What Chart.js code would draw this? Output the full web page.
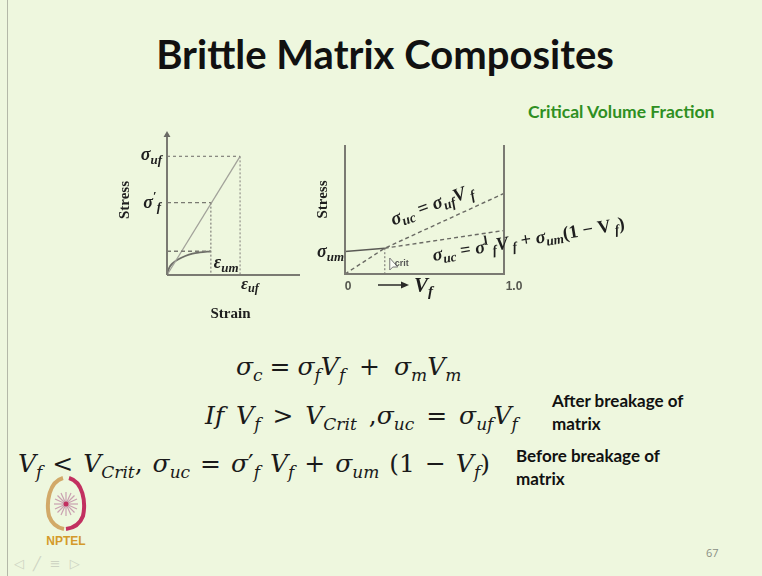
<!DOCTYPE html>
<html>
<head>
<meta charset="utf-8">
<script src="https://cdn.jsdelivr.net/npm/chart.js@4/dist/chart.umd.min.js"></script>
<style>
  html, body { margin: 0; padding: 0; }
  body { width: 762px; height: 576px; overflow: hidden; background: #eef7de; }
  #slide { position: relative; width: 762px; height: 576px; background: #eef7de; }
  .abs { position: absolute; white-space: nowrap; }
  #title { left: 4px; width: 762px; top: 30px; text-align: center; font-family: Lato, "Open Sans", sans-serif; font-weight: 700; font-size: 40px; color: #111; }
  #crit { left: 528px; top: 101px; font-family: Lato, sans-serif; font-weight: 700; font-size: 17.5px; color: #2f8f22; }
  .eq { font-family: "DejaVu Serif", "Liberation Serif", serif; font-size: 25px; color: #1a1a1a; line-height: 30px; }
  .eq i { font-style: italic; }
  .eq sub { font-size: 0.68em; vertical-align: -0.34em; line-height: 0; font-style: italic; }
  .note { font-family: Lato, sans-serif; font-weight: 700; font-size: 17px; color: #111; line-height: 23px; }
  #page { left: 706px; top: 545px; font-family: "Open Sans", sans-serif; font-size: 11px; color: #8a8f84; }
  #nav { left: 14px; top: 556px; font-family: "DejaVu Sans", sans-serif; font-size: 13px; color: #cdd3c2; letter-spacing: 9px; }
  #edge { left: 7px; top: 0; width: 1px; height: 576px; background: #b4b8a8; }
  canvas { position: absolute; }
</style>
</head>
<body>
<div id="slide">
  <div id="edge" class="abs"></div>
  <div id="title" class="abs">Brittle Matrix Composites</div>
  <div id="crit" class="abs">Critical Volume Fraction</div>

  <canvas id="strainChart" width="210" height="200" style="left:100px; top:125px;"></canvas>
  <canvas id="vfChart" width="340" height="170" style="left:305px; top:135px;"></canvas>

  <div class="abs eq" style="left:236px; top:352px; word-spacing:-1px;"><i>σ</i><sub>c</sub> = <i>σ</i><sub>f</sub><i>V</i><sub>f</sub> &nbsp;+&nbsp; <i>σ</i><sub>m</sub><i>V</i><sub>m</sub></div>
  <div class="abs eq" style="left:205px; top:401px; word-spacing:4px;"><i>If V</i><sub>f</sub> &gt; <i>V</i><sub>Crit</sub> ,<i>σ</i><sub>uc</sub> = <i>σ</i><sub>uf</sub><i>V</i><sub>f</sub></div>
  <div class="abs eq" style="left:18px; top:449px; word-spacing:2px;"><i>V</i><sub>f</sub> &lt; <i>V</i><sub>Crit</sub>, <i>σ</i><sub>uc</sub> = <i>σ</i>′<sub>f</sub> <i>V</i><sub>f</sub> + <i>σ</i><sub>um</sub> (1 − <i>V</i><sub>f</sub>)</div>

  <div class="abs note" style="left:552px; top:389px;">After breakage of<br>matrix</div>
  <div class="abs note" style="left:516px; top:444px;">Before breakage of<br>matrix</div>

  <svg class="abs" style="left:36px; top:472px;" width="60" height="80" viewBox="0 0 60 80">
    <path d="M27 6 C13 10 10 30 13 44 C16 52 22 56 28 57" fill="none" stroke="#d2a968" stroke-width="4"/>
    <path d="M33 6 C47 10 50 30 47 44 C44 52 38 56 30 57" fill="none" stroke="#c23060" stroke-width="4"/>
    <g stroke="#c9a0b0" stroke-width="1.2">
      <line x1="30" y1="20" x2="30" y2="44"/><line x1="18" y1="32" x2="42" y2="32"/>
      <line x1="21.5" y1="23.5" x2="38.5" y2="40.5"/><line x1="38.5" y1="23.5" x2="21.5" y2="40.5"/>
      <line x1="25" y1="21" x2="35" y2="43"/><line x1="35" y1="21" x2="25" y2="43"/>
      <line x1="19" y1="27" x2="41" y2="37"/><line x1="41" y1="27" x2="19" y2="37"/>
    </g>
    <circle cx="30" cy="32" r="2.5" fill="#c23060"/>
    <text x="30" y="73" text-anchor="middle" font-family="Liberation Sans, sans-serif" font-weight="700" font-size="12" fill="#d49a2a">NPTEL</text>
  </svg>

  <div id="nav" class="abs">◁╱≡▷</div>
  <div id="page" class="abs">67</div>
</div>

<script>
// ---- Stress–strain sketch (fibre vs. matrix) ----
const strainMax = 1.82;
const stressMax = 1.18;
const sigmaUf = 1.0;      // ultimate fibre strength
const sigmaF1 = 0.61;     // fibre stress at matrix failure strain
const sigmaUm = 0.2;      // ultimate matrix strength
const epsUm = 0.6;        // matrix failure strain
const epsUf = 1.0;        // fibre failure strain
const fibreStrain = [0, 1.0];
const fibreStress = [0, 1.0];
const matrixStrain = [0, 0.03, 0.08, 0.15, 0.25, 0.35, 0.45, 0.6];
const matrixStress = [0, 0.06, 0.1, 0.13, 0.16, 0.18, 0.19, 0.2];

// ---- Composite strength vs. fibre volume fraction ----
const vfMax = 1.0;
const sigmaMax = 1.6;
const vCrit = 0.25;
const fibreCtrlVf = [0, 0.25, 1.0];       // σuc = σuf·Vf branch
const fibreCtrlStress = [0, 0.32, 1.0];
const matrixCtrlVf = [0, 0.25];           // matrix-controlled, solid part
const matrixCtrlStress = [0.28, 0.32];
const matrixExtVf = [0.25, 1.0];          // matrix-controlled, extended
const matrixExtStress = [0.32, 0.54];

const pts = (xs, ys) => xs.map((x, i) => ({ x, y: ys[i] }));

// Draw a run of text pieces: flags i=italic, b=bold, s=subscript, p=superscript
function rich(ctx, parts, x, y, o) {
  const size = o.size || 16, fam = o.family || '"Liberation Serif", serif';
  const segs = parts.map(([t, f]) => {
    const small = f.includes('s') || f.includes('p');
    const sz = small ? size * 0.72 : size;
    const font = (f.includes('i') ? 'italic ' : '') + (f.includes('b') ? 'bold ' : '') + sz + 'px ' + fam;
    ctx.font = font;
    const w = ctx.measureText(t).width;
    const dy = f.includes('s') ? size * 0.2 : f.includes('p') ? -size * 0.4 : 0;
    return { t, font, w, dy };
  });
  const total = segs.reduce((a, s) => a + s.w, 0);
  let cx = o.align === 'right' ? -total : o.align === 'center' ? -total / 2 : 0;
  ctx.save();
  ctx.translate(x, y);
  if (o.rotate) ctx.rotate(o.rotate * Math.PI / 180);
  ctx.fillStyle = o.color || '#1e1e1e';
  ctx.textBaseline = 'alphabetic';
  ctx.textAlign = 'left';
  segs.forEach(s => { ctx.font = s.font; ctx.fillText(s.t, cx, s.dy); cx += s.w; });
  ctx.restore();
}

const baseOpts = (xmax, ymax, padding) => ({
  responsive: false,
  animation: false,
  devicePixelRatio: 1,
  events: [],
  layout: { padding },
  plugins: { legend: { display: false }, tooltip: { enabled: false } },
  scales: {
    x: { type: 'linear', min: 0, max: xmax, display: false },
    y: { type: 'linear', min: 0, max: ymax, display: false }
  },
  elements: { point: { radius: 0 } }
});

const line = (data, color, width, dash, extra) => Object.assign({
  data, showLine: true, borderColor: color, borderWidth: width,
  borderDash: dash || [], pointRadius: 0, clip: false, tension: 0, fill: false
}, extra || {});

new Chart(document.getElementById('strainChart'), {
  type: 'scatter',
  data: {
    datasets: [
      line(pts([0, 0], [0, stressMax]), '#7a7a72', 2, null,
        { pointRadius: [0, 4], pointStyle: 'triangle', pointBackgroundColor: '#6a6a64', pointBorderWidth: 0 }),
      line(pts([0, strainMax], [0, 0]), '#7a7a72', 2),
      line(pts([0, epsUf], [sigmaUf, sigmaUf]), '#8a8a82', 1.3, [3, 3]),
      line(pts([epsUf, epsUf], [sigmaUf, 0]), '#9a9a92', 1.3, [2, 2]),
      line(pts([0, epsUm], [sigmaF1, sigmaF1]), '#7a7a72', 1.4, [4, 3]),
      line(pts([epsUm, epsUm], [sigmaF1, 0]), '#8a8a82', 1.3, [2, 2]),
      line(pts([0, epsUm], [sigmaUm, sigmaUm]), '#7a7a72', 1.4, [4, 3]),
      line(pts(fibreStrain, fibreStress), '#a2a29a', 1.3),
      line(pts(matrixStrain, matrixStress), '#6e6e68', 1.8, null, { tension: 0.4, cubicInterpolationMode: 'monotone' })
    ]
  },
  options: baseOpts(strainMax, stressMax, { left: 67, right: 10, top: 10, bottom: 50 }),
  plugins: [{
    id: 'strainLabels',
    afterDatasetsDraw(chart) {
      const { ctx, scales: { x, y }, chartArea: a } = chart;
      rich(ctx, [['σ', 'bi'], ['uf', 'bis']], x.getPixelForValue(0) - 5, y.getPixelForValue(sigmaUf) + 4, { size: 18, align: 'right' });
      rich(ctx, [['σ', 'bi'], ['′', 'bp'], ['f', 'bis']], x.getPixelForValue(0) - 6, y.getPixelForValue(sigmaF1) + 5, { size: 18, align: 'right' });
      rich(ctx, [['ε', 'bi'], ['um', 'bis']], x.getPixelForValue(epsUm) + 3, y.getPixelForValue(0) - 7, { size: 18 });
      rich(ctx, [['ε', 'bi'], ['uf', 'bis']], x.getPixelForValue(epsUf) + 1, y.getPixelForValue(0) + 14, { size: 17 });
      rich(ctx, [['Strain', 'b']], (a.left + a.right) / 2 - 3, a.bottom + 43, { size: 15, align: 'center' });
      rich(ctx, [['Stress', 'b']], a.left - 38, (a.top + a.bottom) / 2 - 5, { size: 15, align: 'center', rotate: -90 });
    }
  }]
});

new Chart(document.getElementById('vfChart'), {
  type: 'scatter',
  data: {
    datasets: [
      line(pts([0, 0, vfMax, vfMax], [sigmaMax, 0, 0, sigmaMax]), '#7a7a72', 2),
      line(pts(fibreCtrlVf, fibreCtrlStress), '#6a6a64', 1.4, [4, 3]),
      line(pts(matrixExtVf, matrixExtStress), '#6a6a64', 1.4, [4, 3]),
      line(pts(matrixCtrlVf, matrixCtrlStress), '#5a5a55', 1.5),
      line(pts([vCrit, vCrit], [matrixCtrlStress[1], 0]), '#8a8a82', 1.3, [2, 2])
    ]
  },
  options: baseOpts(vfMax, sigmaMax, { left: 40, right: 141, top: 10, bottom: 31 }),
  plugins: [{
    id: 'vfLabels',
    afterDatasetsDraw(chart) {
      const { ctx, scales: { x, y }, chartArea: a } = chart;
      const x0 = x.getPixelForValue(0), y0 = y.getPixelForValue(0);
      rich(ctx, [['Stress', 'b']], x0 - 18, (a.top + a.bottom) / 2 - 10, { size: 15, align: 'center', rotate: -90 });
      rich(ctx, [['σ', 'bi'], ['um', 'bis']], x0 - 1, y.getPixelForValue(matrixCtrlStress[0]) + 6, { size: 18, align: 'right' });
      rich(ctx, [['0', 'b']], x0 + 3, y0 + 16, { size: 12, align: 'center', family: '"Liberation Sans", sans-serif', color: '#55574f' });
      rich(ctx, [['1.0', 'b']], x.getPixelForValue(vfMax) + 10, y0 + 16, { size: 12, align: 'center', family: '"Liberation Sans", sans-serif', color: '#55574f' });
      // arrow towards increasing Vf
      ctx.save();
      ctx.strokeStyle = '#2a2a28'; ctx.fillStyle = '#2a2a28'; ctx.lineWidth = 1.5;
      const ax = x0 + 33, ay = y0 + 11;
      ctx.beginPath(); ctx.moveTo(ax, ay); ctx.lineTo(ax + 26, ay); ctx.stroke();
      ctx.beginPath(); ctx.moveTo(ax + 31, ay); ctx.lineTo(ax + 23, ay - 3.5); ctx.lineTo(ax + 23, ay + 3.5); ctx.closePath(); ctx.fill();
      ctx.restore();
      rich(ctx, [['V', 'bi'], ['f', 'bis']], ax + 36, y0 + 18, { size: 21 });
      // Vcrit marker
      const cx = x.getPixelForValue(vCrit) + 5, cy = y0 - 16;
      ctx.save();
      ctx.strokeStyle = '#777'; ctx.lineWidth = 1; ctx.fillStyle = 'rgba(255,255,255,0.7)';
      ctx.beginPath(); ctx.moveTo(cx, cy); ctx.lineTo(cx, cy + 12); ctx.lineTo(cx + 3, cy + 9); ctx.lineTo(cx + 8, cy + 9); ctx.closePath(); ctx.fill(); ctx.stroke();
      ctx.restore();
      rich(ctx, [['crit', 'b']], cx + 5, cy + 8, { size: 9, family: '"Liberation Sans", sans-serif', color: '#555' });
      // curve labels
      rich(ctx, [['σ', 'bi'], ['uc', 'bis'], [' = σ', 'bi'], ['uf', 'bis'], ['V', 'bi'], [' f', 'bis']],
        x.getPixelForValue(0.56), y.getPixelForValue(0.79), { size: 19, align: 'center', rotate: -20.5 });
      rich(ctx, [['σ', 'bi'], ['uc', 'bis'], [' = σ', 'bi'], ['l', 'bp'], [' f', 'bis'], ['V', 'bi'], [' f', 'bis'], [' + σ', 'bi'], ['um', 'bis'], ['(1 − V', 'b'], [' f', 'bis'], [')', 'b']],
        x.getPixelForValue(1.16), y.getPixelForValue(0.36), { size: 18.5, align: 'center', rotate: -9.5 });
    }
  }]
});
</script>
</body>
</html>
